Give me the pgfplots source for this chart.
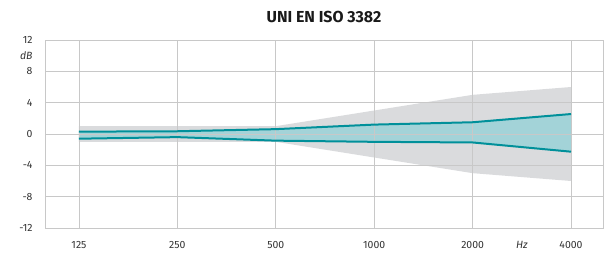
\documentclass[border=0pt]{standalone}
\usepackage{fontspec}
\setmainfont{Fira Sans}
\usepackage{pgfplots}
\pgfplotsset{compat=1.18}
\usepgfplotslibrary{fillbetween}
\definecolor{gridgray}{HTML}{C8C8C8}
\definecolor{bandgray}{HTML}{DADBDD}
\definecolor{tealfill}{HTML}{A3D3D8}
\definecolor{tealline}{HTML}{00909A}
\definecolor{labelgray}{HTML}{333333}
\begin{document}
\begin{tikzpicture}
\begin{axis}[
  set layers,
  scale only axis, width=558bp, height=188bp,
  xmin=-0.345, xmax=5.325, ymin=-12, ymax=12,
  xtick={0,1,2,3,4,5}, xticklabels={125,250,500,1000,2000,4000},
  extra x ticks={4.5}, extra x tick labels={\textit{Hz}},
  extra x tick style={grid=none},
  ytick={-12,-8,-4,0,4,8,12},
  extra y ticks={10}, extra y tick labels={\textit{dB}},
  extra y tick style={grid=none},
  grid=major, grid style={draw=gridgray, line width=0.8pt},
  axis line style={draw=gridgray, line width=0.8pt},
  major tick length=0pt,
  tick label style={font=\fontsize{10.5}{12}\selectfont, text=labelgray},
  xticklabel style={yshift=-10bp},
  yticklabel style={xshift=-9bp},
  /pgf/number format/assume math mode=true,
  fill between/on layer=axis background,
  clip=false,
]
\addplot[draw=none, name path=gu, forget plot] coordinates {(0,1)(1,1)(2,1)(3,3)(4,5)(5,6)};
\addplot[draw=none, name path=gl, forget plot] coordinates {(0,-1)(1,-1)(2,-1)(3,-3)(4,-5)(5,-6)};
\addplot[bandgray] fill between[of=gu and gl];
\addplot[tealline, line width=2bp, name path=tu] coordinates {(0,0.3)(1,0.35)(2,0.62)(3,1.2)(4,1.5)(5,2.55)};
\addplot[tealline, line width=2bp, name path=tl] coordinates {(0,-0.6)(1,-0.4)(2,-0.85)(3,-1.0)(4,-1.08)(5,-2.26)};
\addplot[tealfill] fill between[of=tu and tl];
\coordinate (SW) at (rel axis cs:0,0);
\coordinate (NE) at (rel axis cs:1,1);
\node[anchor=base, font=\fontsize{16}{18}\selectfont\bfseries, text=black!90] at ([yshift=17bp]rel axis cs:0.5,1) {UNI EN ISO 3382};
\end{axis}
\useasboundingbox ([xshift=-45bp,yshift=-29bp]SW) rectangle ([xshift=2bp,yshift=40bp]NE);
\end{tikzpicture}
\end{document}
